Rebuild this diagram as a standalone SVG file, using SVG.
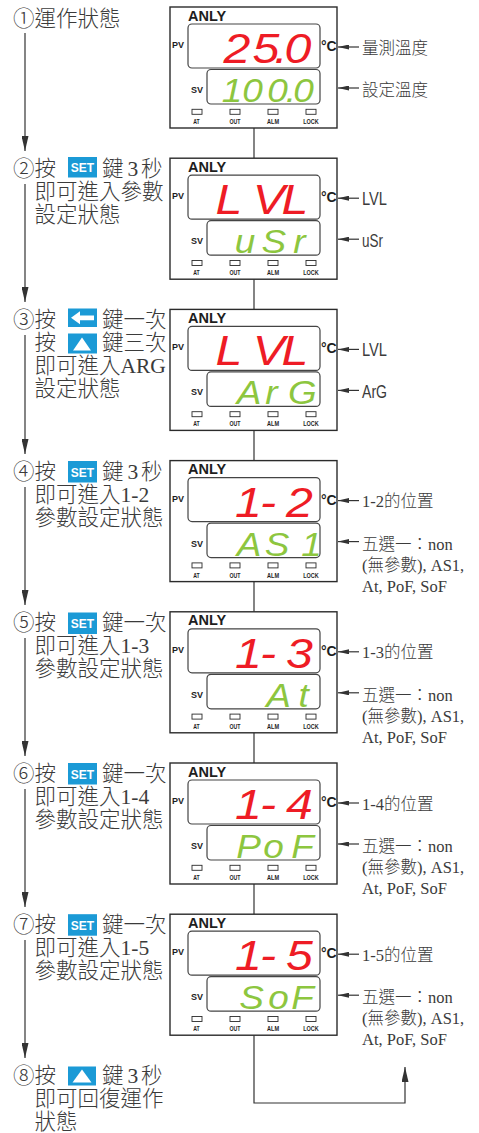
<svg xmlns="http://www.w3.org/2000/svg" width="479" height="1133" viewBox="0 0 479 1133">
<style>
.t{font-family:'Liberation Serif','Noto Sans CJK TC',serif;font-size:21.5px;font-weight:300;fill:#3b3b3b}
.r{font-family:'Liberation Serif','Noto Sans CJK TC',serif;font-size:16.5px;font-weight:300;fill:#3b3b3b}
.rs{font-family:'Liberation Sans','Noto Sans CJK TC',sans-serif;font-size:17.5px;fill:#3b3b3b}
.box{fill:#fff;stroke:#2b2b2b;stroke-width:1.4}
.disp{fill:#fff;stroke:#444;stroke-width:1.2}
.led{fill:#fff;stroke:#2b2b2b;stroke-width:0.9}
.brand{font-family:'Liberation Sans',sans-serif;font-weight:bold;font-size:14.5px;fill:#1e1e1e}
.lb{font-family:'Liberation Sans',sans-serif;font-weight:bold;font-size:9px;fill:#1e1e1e}
.deg{font-family:'Liberation Sans',sans-serif;font-weight:bold;font-size:14px;fill:#1e1e1e}
.ind{font-family:'Liberation Sans',sans-serif;font-weight:bold;font-size:7.5px;fill:#1e1e1e;text-anchor:middle}
.pv{font-family:'Liberation Sans',sans-serif;font-style:italic;font-size:42px;fill:#ee1c25;text-anchor:middle}
.sv{font-family:'Liberation Sans',sans-serif;font-style:italic;font-size:33px;fill:#8dc63f;text-anchor:middle}
.key{fill:#1b9ad6}
.kt{font-family:'Liberation Sans',sans-serif;font-weight:bold;font-size:12px;fill:#fff;text-anchor:middle}
.ln{fill:none;stroke:#333;stroke-width:1.2}
</style>
<defs>
<marker id="arr" markerUnits="userSpaceOnUse" viewBox="0 0 15 7" refX="15" refY="3.5" markerWidth="15" markerHeight="7" orient="auto"><path d="M0,0L15,3.5L0,7z" fill="#333"/></marker>
<marker id="arrs" markerUnits="userSpaceOnUse" viewBox="0 0 11 5" refX="11" refY="2.5" markerWidth="11" markerHeight="5" orient="auto"><path d="M0,0L11,2.5L0,5z" fill="#333"/></marker>
</defs>

<g id="connectors">
<line class="ln" x1="254" y1="128" x2="254" y2="158.2"/>
<line class="ln" x1="254" y1="279.2" x2="254" y2="309.4"/>
<line class="ln" x1="254" y1="430.4" x2="254" y2="460.6"/>
<line class="ln" x1="254" y1="581.6" x2="254" y2="611.8"/>
<line class="ln" x1="254" y1="732.8" x2="254" y2="763"/>
<line class="ln" x1="254" y1="884" x2="254" y2="914.2"/>
<path class="ln" d="M254,1035.2V1103H405V1067" marker-end="url(#arr)"/>
<line class="ln" x1="25" y1="33" x2="25" y2="151" marker-end="url(#arr)"/>
<line class="ln" x1="25" y1="184" x2="25" y2="302" marker-end="url(#arr)"/>
<line class="ln" x1="25" y1="335" x2="25" y2="454" marker-end="url(#arr)"/>
<line class="ln" x1="25" y1="487" x2="25" y2="605" marker-end="url(#arr)"/>
<line class="ln" x1="25" y1="638" x2="25" y2="756" marker-end="url(#arr)"/>
<line class="ln" x1="25" y1="789" x2="25" y2="907" marker-end="url(#arr)"/>
<line class="ln" x1="25" y1="940" x2="25" y2="1058" marker-end="url(#arr)"/>
<line class="ln" x1="359" y1="47" x2="338" y2="47" marker-end="url(#arrs)"/>
<line class="ln" x1="359" y1="88" x2="338" y2="88" marker-end="url(#arrs)"/>
<line class="ln" x1="359" y1="198.2" x2="338" y2="198.2" marker-end="url(#arrs)"/>
<line class="ln" x1="359" y1="239.2" x2="338" y2="239.2" marker-end="url(#arrs)"/>
<line class="ln" x1="359" y1="349.4" x2="338" y2="349.4" marker-end="url(#arrs)"/>
<line class="ln" x1="359" y1="390.4" x2="338" y2="390.4" marker-end="url(#arrs)"/>
<line class="ln" x1="359" y1="500.6" x2="338" y2="500.6" marker-end="url(#arrs)"/>
<line class="ln" x1="359" y1="541.6" x2="338" y2="541.6" marker-end="url(#arrs)"/>
<line class="ln" x1="359" y1="651.8" x2="338" y2="651.8" marker-end="url(#arrs)"/>
<line class="ln" x1="359" y1="692.8" x2="338" y2="692.8" marker-end="url(#arrs)"/>
<line class="ln" x1="359" y1="803" x2="338" y2="803" marker-end="url(#arrs)"/>
<line class="ln" x1="359" y1="844" x2="338" y2="844" marker-end="url(#arrs)"/>
<line class="ln" x1="359" y1="954.2" x2="338" y2="954.2" marker-end="url(#arrs)"/>
<line class="ln" x1="359" y1="995.2" x2="338" y2="995.2" marker-end="url(#arrs)"/>
</g>

<!-- steps -->
<g id="step-1">
<text class="t" x="13" y="25.5">①運作狀態</text>
</g>
<g id="step-2">
<text class="t" x="13" y="176.2">②按</text>
<rect class="key" x="68" y="157" width="29" height="20.5"/><text class="kt" x="82.5" y="172">SET</text>
<text class="t" y="176.2"><tspan x="102">鍵</tspan><tspan x="127.5">3</tspan><tspan x="141">秒</tspan></text>
<text class="t" x="34.5" y="199.2">即可進入參數</text>
<text class="t" x="34.5" y="222.2">設定狀態</text>
</g>
<g id="step-3">
<text class="t" x="13" y="327.4">③按</text>
<rect class="key" x="68" y="308.5" width="29" height="18.5"/>
<polygon points="71,317.8 80,311.3 80,315.4 94,315.4 94,320.2 80,320.2 80,324.3" fill="#fff"/>
<text class="t" x="102" y="327.4">鍵一次</text>
<text class="t" x="34.5" y="350.4">按</text>
<rect class="key" x="68" y="333.5" width="29" height="20"/>
<polygon points="73,350.4 91,350.4 82,337.4" fill="#fff"/>
<text class="t" x="102" y="350.4">鍵三次</text>
<text class="t" x="34.5" y="373.4">即可進入ARG</text>
<text class="t" x="34.5" y="396.4">設定狀態</text>
</g>
<g id="step-4">
<text class="t" x="13" y="478.6">④按</text>
<rect class="key" x="68" y="461" width="29" height="21.5"/><text class="kt" x="82.5" y="476.5">SET</text>
<text class="t" y="478.6"><tspan x="102">鍵</tspan><tspan x="127.5">3</tspan><tspan x="141">秒</tspan></text>
<text class="t" x="34.5" y="501.6">即可進入1-2</text>
<text class="t" x="34.5" y="524.6">參數設定狀態</text>
</g>
<g id="step-5">
<text class="t" x="13" y="629.8">⑤按</text>
<rect class="key" x="68" y="612.5" width="29" height="21.5"/><text class="kt" x="82.5" y="628">SET</text>
<text class="t" x="102" y="629.8">鍵一次</text>
<text class="t" x="34.5" y="652.8">即可進入1-3</text>
<text class="t" x="34.5" y="675.8">參數設定狀態</text>
</g>
<g id="step-6">
<text class="t" x="13" y="781">⑥按</text>
<rect class="key" x="68" y="763" width="29" height="21.5"/><text class="kt" x="82.5" y="778.5">SET</text>
<text class="t" x="102" y="781">鍵一次</text>
<text class="t" x="34.5" y="804">即可進入1-4</text>
<text class="t" x="34.5" y="827">參數設定狀態</text>
</g>
<g id="step-7">
<text class="t" x="13" y="932.2">⑦按</text>
<rect class="key" x="68" y="914.2" width="29" height="21.5"/><text class="kt" x="82.5" y="929.7">SET</text>
<text class="t" x="102" y="932.2">鍵一次</text>
<text class="t" x="34.5" y="955.2">即可進入1-5</text>
<text class="t" x="34.5" y="978.2">參數設定狀態</text>
</g>
<g id="step-8">
<text class="t" x="13" y="1083.4">⑧按</text>
<rect class="key" x="68" y="1066.5" width="28" height="19"/>
<polygon points="72.5,1082.5 91.5,1082.5 82,1069.5" fill="#fff"/>
<text class="t" y="1083.4"><tspan x="102">鍵</tspan><tspan x="127.5">3</tspan><tspan x="141">秒</tspan></text>
<text class="t" x="34.5" y="1106.4">即可回復運作</text>
<text class="t" x="34.5" y="1129.4">狀態</text>
</g>

<!-- panels -->
<g id="panel-1" transform="translate(0,7)">
<rect class="box" x="170" y="0" width="167" height="121"/>
<text class="brand" x="188" y="13.5">ANLY</text>
<rect class="disp" x="188" y="17" width="132" height="44" rx="4"/>
<rect class="disp" x="207" y="62.5" width="113" height="34.5" rx="4"/>
<text class="lb" x="172" y="41">PV</text><text class="lb" x="191" y="86">SV</text>
<text class="deg" x="321" y="44">°C</text>
<rect class="led" x="192" y="102.3" width="10" height="5"/><rect class="led" x="230" y="102.3" width="10" height="5"/><rect class="led" x="268" y="102.3" width="10" height="5"/><rect class="led" x="306" y="102.3" width="10" height="5"/>
<text class="ind" x="196.5" y="117" textLength="6.5" lengthAdjust="spacingAndGlyphs">AT</text><text class="ind" x="235" y="117" textLength="11" lengthAdjust="spacingAndGlyphs">OUT</text><text class="ind" x="273" y="117" textLength="12" lengthAdjust="spacingAndGlyphs">ALM</text><text class="ind" x="311" y="117" textLength="15.5" lengthAdjust="spacingAndGlyphs">LOCK</text>
<text class="pv" transform="scale(1.15,1)" x="206.1 231.3 244.3 259.1" y="56">25.0</text>
<text class="sv" transform="scale(1.12,1)" x="207.1 225.4 247.8 259.8 271" y="95">100.0</text>
<text class="r" x="362" y="46.5">量測溫度</text>
<text class="r" x="362" y="88.5">設定溫度</text>
</g>

<g id="panel-2" transform="translate(0,158.2)">
<rect class="box" x="170" y="0" width="167" height="121"/>
<text class="brand" x="188" y="13.5">ANLY</text>
<rect class="disp" x="188" y="17" width="132" height="44" rx="4"/>
<rect class="disp" x="207" y="62.5" width="113" height="34.5" rx="4"/>
<text class="lb" x="172" y="41">PV</text><text class="lb" x="191" y="86">SV</text>
<text class="deg" x="321" y="44">°C</text>
<rect class="led" x="192" y="102.3" width="10" height="5"/><rect class="led" x="230" y="102.3" width="10" height="5"/><rect class="led" x="268" y="102.3" width="10" height="5"/><rect class="led" x="306" y="102.3" width="10" height="5"/>
<text class="ind" x="196.5" y="117" textLength="6.5" lengthAdjust="spacingAndGlyphs">AT</text><text class="ind" x="235" y="117" textLength="11" lengthAdjust="spacingAndGlyphs">OUT</text><text class="ind" x="273" y="117" textLength="12" lengthAdjust="spacingAndGlyphs">ALM</text><text class="ind" x="311" y="117" textLength="15.5" lengthAdjust="spacingAndGlyphs">LOCK</text>
<text class="pv" transform="scale(1.15,1)" x="199.1 233.9 256.5" y="56">LVL</text>
<text class="sv" transform="scale(1.12,1)" x="218.8 244.6 267.4" y="95">uSr</text>
<text class="rs" x="362" y="47" textLength="25" lengthAdjust="spacingAndGlyphs">LVL</text>
<text class="rs" x="362" y="88.5" textLength="21" lengthAdjust="spacingAndGlyphs">uSr</text>
</g>

<g id="panel-3" transform="translate(0,309.4)">
<rect class="box" x="170" y="0" width="167" height="121"/>
<text class="brand" x="188" y="13.5">ANLY</text>
<rect class="disp" x="188" y="17" width="132" height="44" rx="4"/>
<rect class="disp" x="207" y="62.5" width="113" height="34.5" rx="4"/>
<text class="lb" x="172" y="41">PV</text><text class="lb" x="191" y="86">SV</text>
<text class="deg" x="321" y="44">°C</text>
<rect class="led" x="192" y="102.3" width="10" height="5"/><rect class="led" x="230" y="102.3" width="10" height="5"/><rect class="led" x="268" y="102.3" width="10" height="5"/><rect class="led" x="306" y="102.3" width="10" height="5"/>
<text class="ind" x="196.5" y="117" textLength="6.5" lengthAdjust="spacingAndGlyphs">AT</text><text class="ind" x="235" y="117" textLength="11" lengthAdjust="spacingAndGlyphs">OUT</text><text class="ind" x="273" y="117" textLength="12" lengthAdjust="spacingAndGlyphs">ALM</text><text class="ind" x="311" y="117" textLength="15.5" lengthAdjust="spacingAndGlyphs">LOCK</text>
<text class="pv" transform="scale(1.15,1)" x="199.1 233.9 256.5" y="56">LVL</text>
<text class="sv" transform="scale(1.12,1)" x="222.3 242.4 270.1" y="95">ArG</text>
<text class="rs" x="362" y="47" textLength="25" lengthAdjust="spacingAndGlyphs">LVL</text>
<text class="rs" x="362" y="88.5" textLength="25" lengthAdjust="spacingAndGlyphs">ArG</text>
</g>

<g id="panel-4" transform="translate(0,460.6)">
<rect class="box" x="170" y="0" width="167" height="121"/>
<text class="brand" x="188" y="13.5">ANLY</text>
<rect class="disp" x="188" y="17" width="132" height="44" rx="4"/>
<rect class="disp" x="207" y="62.5" width="113" height="34.5" rx="4"/>
<text class="lb" x="172" y="41">PV</text><text class="lb" x="191" y="86">SV</text>
<text class="deg" x="321" y="44">°C</text>
<rect class="led" x="192" y="102.3" width="10" height="5"/><rect class="led" x="230" y="102.3" width="10" height="5"/><rect class="led" x="268" y="102.3" width="10" height="5"/><rect class="led" x="306" y="102.3" width="10" height="5"/>
<text class="ind" x="196.5" y="117" textLength="6.5" lengthAdjust="spacingAndGlyphs">AT</text><text class="ind" x="235" y="117" textLength="11" lengthAdjust="spacingAndGlyphs">OUT</text><text class="ind" x="273" y="117" textLength="12" lengthAdjust="spacingAndGlyphs">ALM</text><text class="ind" x="311" y="117" textLength="15.5" lengthAdjust="spacingAndGlyphs">LOCK</text>
<text class="pv" transform="scale(1.15,1)" x="216.1 233 260.4" y="56">1-2</text>
<text class="sv" transform="scale(1.12,1)" x="222.3 247.3 278.1" y="95">AS1</text>
<text class="r" x="362" y="46.5">1-2的位置</text>
<text class="r" x="362" y="89">五選一：non</text>
<text class="r" x="362" y="110">(無參數), AS1,</text>
<text class="r" x="362" y="131">At, PoF, SoF</text>
</g>

<g id="panel-5" transform="translate(0,611.8)">
<rect class="box" x="170" y="0" width="167" height="121"/>
<text class="brand" x="188" y="13.5">ANLY</text>
<rect class="disp" x="188" y="17" width="132" height="44" rx="4"/>
<rect class="disp" x="207" y="62.5" width="113" height="34.5" rx="4"/>
<text class="lb" x="172" y="41">PV</text><text class="lb" x="191" y="86">SV</text>
<text class="deg" x="321" y="44">°C</text>
<rect class="led" x="192" y="102.3" width="10" height="5"/><rect class="led" x="230" y="102.3" width="10" height="5"/><rect class="led" x="268" y="102.3" width="10" height="5"/><rect class="led" x="306" y="102.3" width="10" height="5"/>
<text class="ind" x="196.5" y="117" textLength="6.5" lengthAdjust="spacingAndGlyphs">AT</text><text class="ind" x="235" y="117" textLength="11" lengthAdjust="spacingAndGlyphs">OUT</text><text class="ind" x="273" y="117" textLength="12" lengthAdjust="spacingAndGlyphs">ALM</text><text class="ind" x="311" y="117" textLength="15.5" lengthAdjust="spacingAndGlyphs">LOCK</text>
<text class="pv" transform="scale(1.15,1)" x="216.1 233 260.4" y="56">1-3</text>
<text class="sv" transform="scale(1.12,1)" x="248.7 271" y="95">At</text>
<text class="r" x="362" y="46.5">1-3的位置</text>
<text class="r" x="362" y="89">五選一：non</text>
<text class="r" x="362" y="110">(無參數), AS1,</text>
<text class="r" x="362" y="131">At, PoF, SoF</text>
</g>

<g id="panel-6" transform="translate(0,763)">
<rect class="box" x="170" y="0" width="167" height="121"/>
<text class="brand" x="188" y="13.5">ANLY</text>
<rect class="disp" x="188" y="17" width="132" height="44" rx="4"/>
<rect class="disp" x="207" y="62.5" width="113" height="34.5" rx="4"/>
<text class="lb" x="172" y="41">PV</text><text class="lb" x="191" y="86">SV</text>
<text class="deg" x="321" y="44">°C</text>
<rect class="led" x="192" y="102.3" width="10" height="5"/><rect class="led" x="230" y="102.3" width="10" height="5"/><rect class="led" x="268" y="102.3" width="10" height="5"/><rect class="led" x="306" y="102.3" width="10" height="5"/>
<text class="ind" x="196.5" y="117" textLength="6.5" lengthAdjust="spacingAndGlyphs">AT</text><text class="ind" x="235" y="117" textLength="11" lengthAdjust="spacingAndGlyphs">OUT</text><text class="ind" x="273" y="117" textLength="12" lengthAdjust="spacingAndGlyphs">ALM</text><text class="ind" x="311" y="117" textLength="15.5" lengthAdjust="spacingAndGlyphs">LOCK</text>
<text class="pv" transform="scale(1.15,1)" x="216.1 233 260.4" y="56">1-4</text>
<text class="sv" transform="scale(1.12,1)" x="221.9 244.2 270.1" y="95">PoF</text>
<text class="r" x="362" y="46.5">1-4的位置</text>
<text class="r" x="362" y="89">五選一：non</text>
<text class="r" x="362" y="110">(無參數), AS1,</text>
<text class="r" x="362" y="131">At, PoF, SoF</text>
</g>

<g id="panel-7" transform="translate(0,914.2)">
<rect class="box" x="170" y="0" width="167" height="121"/>
<text class="brand" x="188" y="13.5">ANLY</text>
<rect class="disp" x="188" y="17" width="132" height="44" rx="4"/>
<rect class="disp" x="207" y="62.5" width="113" height="34.5" rx="4"/>
<text class="lb" x="172" y="41">PV</text><text class="lb" x="191" y="86">SV</text>
<text class="deg" x="321" y="44">°C</text>
<rect class="led" x="192" y="102.3" width="10" height="5"/><rect class="led" x="230" y="102.3" width="10" height="5"/><rect class="led" x="268" y="102.3" width="10" height="5"/><rect class="led" x="306" y="102.3" width="10" height="5"/>
<text class="ind" x="196.5" y="117" textLength="6.5" lengthAdjust="spacingAndGlyphs">AT</text><text class="ind" x="235" y="117" textLength="11" lengthAdjust="spacingAndGlyphs">OUT</text><text class="ind" x="273" y="117" textLength="12" lengthAdjust="spacingAndGlyphs">ALM</text><text class="ind" x="311" y="117" textLength="15.5" lengthAdjust="spacingAndGlyphs">LOCK</text>
<text class="pv" transform="scale(1.15,1)" x="216.1 233 260.4" y="56">1-5</text>
<text class="sv" transform="scale(1.12,1)" x="224.6 248.7 270.1" y="95">SoF</text>
<text class="r" x="362" y="46.5">1-5的位置</text>
<text class="r" x="362" y="89">五選一：non</text>
<text class="r" x="362" y="110">(無參數), AS1,</text>
<text class="r" x="362" y="131">At, PoF, SoF</text>
</g>
</svg>
